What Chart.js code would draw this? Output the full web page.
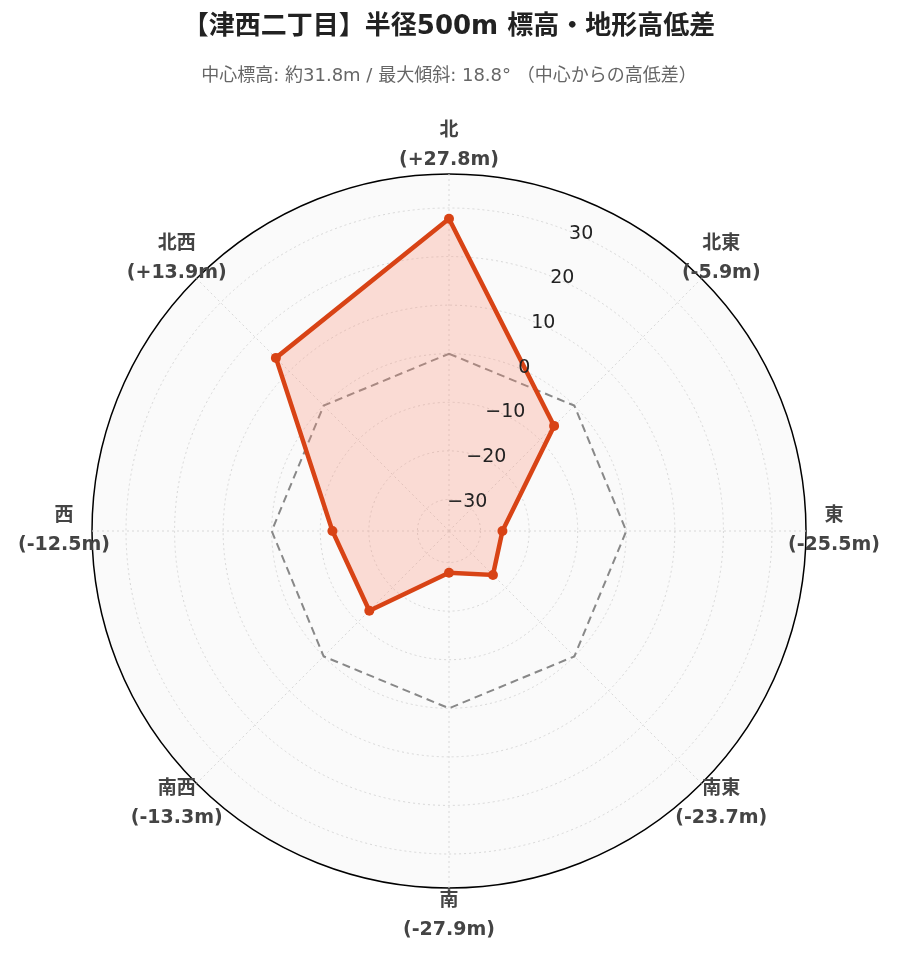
<!DOCTYPE html>
<html><head><meta charset="utf-8">
<script src="https://cdn.jsdelivr.net/npm/chart.js@4.4.0/dist/chart.umd.min.js"></script>
<style>html,body{margin:0;padding:0;background:#fff}#w{width:899px;height:962px}</style>
</head><body><div id="w"><canvas id="c"></canvas></div>
<script>
const directions = ['北','北東','東','南東','南','南西','西','北西'];
const diffs = [27.8, -5.9, -25.5, -23.7, -27.9, -13.3, -12.5, 13.9];
const zeroLine = [0,0,0,0,0,0,0,0];
const tickValues = [-30,-20,-10,0,10,20,30];
const rMin = -36.5, rMax = 37;
const fmt = v => '(' + (v>0?'+':'') + v.toFixed(1) + 'm)';
const F = '"DejaVu Sans","Noto Sans CJK JP",sans-serif';

const bgPlugin = {
  id:'bg',
  beforeDraw(chart){
    const s = chart.scales.r, ctx = chart.ctx;
    ctx.save();
    ctx.beginPath(); ctx.arc(s.xCenter, s.yCenter, s.drawingArea, 0, Math.PI*2);
    ctx.fillStyle='#fafafa'; ctx.fill(); ctx.restore();
  },
  afterDatasetsDraw(chart){
    const s = chart.scales.r, ctx = chart.ctx;
    ctx.save();
    ctx.font = '19px "DejaVu Sans",sans-serif'; ctx.fillStyle='#222';
    ctx.textAlign='center'; ctx.textBaseline='middle';
    const a = 23*Math.PI/180;
    tickValues.forEach(v=>{
      const d = s.getDistanceFromCenterForValue(v);
      ctx.fillText(String(v).replace('-','−'), s.xCenter + d*Math.sin(a)+ 6, s.yCenter - d*Math.cos(a));
    });
    ctx.font = 'bold 19px ' + F; ctx.fillStyle='#444';
    const R = s.drawingArea + 28;
    directions.forEach((d,i)=>{
      const ang = i*Math.PI/4;
      const x = s.xCenter + R*Math.sin(ang), y = s.yCenter - R*Math.cos(ang);
      ctx.fillText(d, x, y-14.5);
      ctx.fillText(fmt(diffs[i]), x, y+14.5);
    });
    ctx.restore();
  }
};

new Chart(document.getElementById('c'), {
  type:'radar',
  data:{
    labels: directions,
    datasets:[
      {data: zeroLine, borderColor:'#888', borderDash:[8,5], borderWidth:2, fill:false, pointRadius:0, order:2},
      {data: diffs, borderColor:'#d84315', backgroundColor:'rgba(252,140,115,0.28)', borderWidth:4.5, fill:'start',
       pointRadius:5, pointBackgroundColor:'#d84315', pointBorderColor:'#d84315', pointBorderWidth:0, order:1}
    ]
  },
  options:{
    responsive:true, maintainAspectRatio:false, animation:false,
    layout:{padding:{top:0,bottom:68,left:92,right:93}},
    plugins:{
      legend:{display:false}, tooltip:{enabled:false},
      title:{display:true, text:'【津西二丁目】半径500m 標高・地形高低差', color:'#222', font:{family:F,size:26,weight:'bold'}, padding:{top:12,bottom:22}},
      subtitle:{display:true, text:'中心標高: 約31.8m / 最大傾斜: 18.8° （中心からの高低差）', color:'#666', font:{family:F,size:18}, padding:{bottom:82}}
    },
    scales:{
      r:{
        min:rMin, max:rMax,
        afterBuildTicks(s){ s.ticks = [rMin, ...tickValues, rMax].map(v=>({value:v})); },
        ticks:{display:false},
        grid:{circular:true, color: c => c.index === 8 ? '#000' : '#d8d8d8', lineWidth: c => c.index===8?1.5:1},
        border:{dash: c => c.index === 8 ? [] : [2,3]},
        angleLines:{color:'#d8d8d8', borderDash:[2,3]},
        pointLabels:{display:false}
      }
    }
  },
  plugins:[bgPlugin]
});
</script></body></html>
